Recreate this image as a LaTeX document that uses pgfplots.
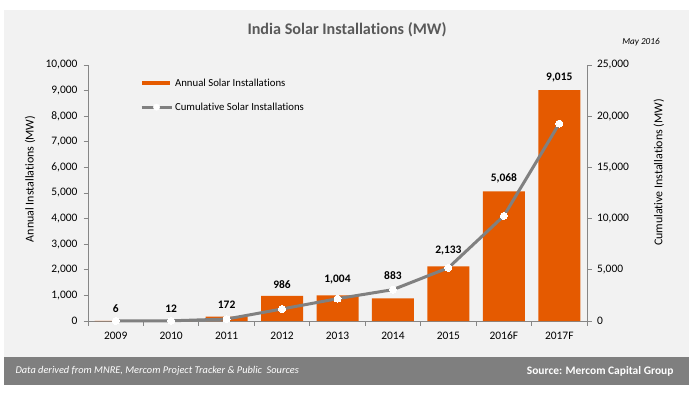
\documentclass[border=0pt]{standalone}
\usepackage{fontspec}
\setmainfont{Carlito}[Ligatures={NoCommon}]
\usepackage{pgfplots}
\usepackage{pgfplotstable}
\pgfplotsset{compat=1.18}
\definecolor{barorange}{RGB}{229,90,0}
\definecolor{linegray}{RGB}{128,128,128}
\definecolor{panelgray}{RGB}{242,242,242}
\definecolor{footgray}{RGB}{127,127,127}
\definecolor{axisgray}{RGB}{134,134,134}
\definecolor{titlegray}{RGB}{89,89,89}

\pgfplotstableread{
x y dy
0 6 12
1 12 12
2 172 12
3 986 11
4 1004 16
5 883 23
6 2133 16
7 5068 13
8 9015 13
}\annual
\pgfplotstableread{
x y
0 6
1 18
2 190
3 1176
4 2180
5 3063
6 5196
7 10264
8 19279
}\cumul

\begin{document}
\begin{tikzpicture}[x=1bp,y=1bp]
\path[use as bounding box] (0,0) rectangle (693,397);
\fill[white] (0,0) rectangle (693,397);
\fill[panelgray] (4,40) rectangle (689,387);
\fill[footgray] (4,12) rectangle (689,40);
\node[font=\fontsize{16.2}{19}\selectfont\bfseries, text=titlegray] at (347,367) {India Solar Installations (MW)};
\node[font=\fontsize{9.2}{11}\selectfont\itshape] at (641,355) {May 2016};
\node[anchor=west, font=\fontsize{10.4}{12}\selectfont\itshape, text=white] at (12,26) {Data derived from MNRE, Mercom Project Tracker \& Public\ \ Sources};
\node[anchor=east, font=\fontsize{11.5}{13}\selectfont\bfseries, text=white] at (677,26) {Source: Mercom Capital Group};

\pgfplotsset{
  common/.style={
    at={(88bp,76bp)}, anchor=south west,
    scale only axis, width=499bp, height=256bp,
    xmin=-0.5, xmax=8.5,
    ymin=0,
    axis line style={-, axisgray, line width=0.8bp},
    every inner x axis line/.append style={-},
    every inner y axis line/.append style={-},
    every outer x axis line/.append style={-},
    every outer y axis line/.append style={-},
    tick style={axisgray, line width=0.8bp},
    tick align=outside,
    major tick length=4.5bp,
    ticklabel style={font=\fontsize{11.5}{13}\selectfont, text=black},
    label style={font=\fontsize{12}{14}\selectfont},
    /pgf/number format/.cd, 1000 sep={,}, assume math mode=true, /pgfplots/.cd,
    scaled y ticks=false,
    clip=false,
  }
}
\begin{axis}[common,
  ymax=10000,
  axis x line*=bottom, axis y line*=left,
  ytick={0,1000,...,10000},
  yticklabel style={xshift=-2.5bp},
  xtick={-0.5,0.5,1.5,2.5,3.5,4.5,5.5,6.5,7.5,8.5},
  x tick label as interval,
  xticklabels={2009,2010,2011,2012,2013,2014,2015,2016F,2017F},
  xticklabel style={yshift=-3bp},
  ylabel={Annual Installations (MW)},
  ylabel style={at={(axis description cs:-0.116,0.555)}, anchor=center},
  legend style={at={(axis description cs:0.104,0.955)}, anchor=north west,
    draw=none, fill=none, font=\fontsize{10.8}{12}\selectfont,
    row sep=11bp, inner sep=0pt,
    /tikz/every even column/.append style={column sep=0bp}},
  legend cell align=left,
]
\addplot[ybar, bar width=42bp, fill=barorange, draw=none,
  visualization depends on={\thisrow{dy} \as \dy},
  nodes near coords,
  nodes near coords style={font=\fontsize{11.5}{13}\selectfont\bfseries, text=black, anchor=center, yshift=\dy bp},
  legend image code/.code={\fill[barorange] (0bp,-2.2bp) rectangle (28bp,2.2bp);}
] table[x=x,y=y]{\annual};
\addlegendentry{Annual Solar Installations}
\addlegendimage{legend image code/.code={\draw[linegray,line width=3bp] (0bp,0bp)--(30bp,0bp); \fill[white] (15bp,0bp) circle (3.2bp);}}
\addlegendentry{Cumulative Solar Installations}
\end{axis}
\begin{axis}[common,
  ymax=25000,
  axis x line=none, axis y line*=right,
  ytick={0,5000,...,25000},
  yticklabel style={xshift=2bp},
  ylabel={Cumulative Installations (MW)},
  ylabel style={at={(axis description cs:1.144,0.58)}, anchor=center},
]
\addplot[linegray, line width=3bp, mark=*, mark size=3.5bp, mark options={fill=white, draw=white, line width=0pt}] table[x=x,y=y]{\cumul};
\end{axis}
\end{tikzpicture}
\end{document}
